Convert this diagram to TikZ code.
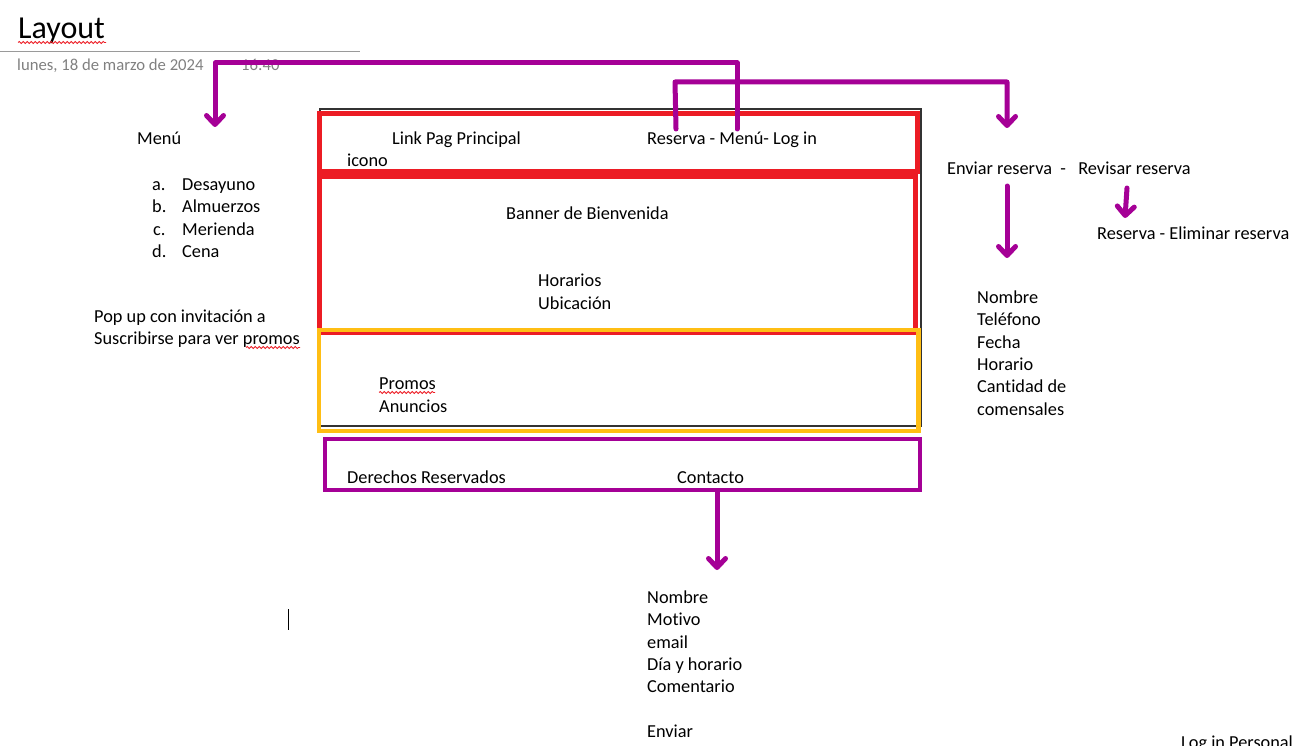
\documentclass[tikz,border=0pt]{standalone}
\usepackage{fontspec}
\setmainfont{Carlito}[Ligatures=NoCommon]
\usetikzlibrary{arrows.meta,decorations.pathmorphing}

\definecolor{boxred}{RGB}{236,28,36}
\definecolor{boxorange}{RGB}{255,190,20}
\definecolor{penpurple}{RGB}{165,0,150}
\definecolor{dategray}{RGB}{128,128,128}
\definecolor{framegray}{RGB}{50,50,50}

\tikzset{
  txt/.style={anchor=base west, inner sep=0pt, font=\fontsize{18.3}{22}\selectfont},
  pen/.style={penpurple, line width=5pt, line cap=round, line join=round,
    -{Straight Barb[length=9pt,width=17pt,round]}},
  squiggle/.style={boxred, line width=0.8pt, decorate,
    decoration={snake, amplitude=1pt, segment length=4pt}},
}

\begin{document}
\begin{tikzpicture}[x=1pt,y=-1pt]
  \useasboundingbox (0,0) rectangle (1305,746);

  %% header
  \node[txt, font=\fontsize{32}{36}\selectfont] (title) at (18,39) {Layout};
  \draw[squiggle] (18,42.5) -- (106,42.5);
  \draw[dategray!80, line width=1pt] (0,52) -- (360,52);
  \node[txt, text=dategray, font=\fontsize{16.7}{20}\selectfont] (date) at (17,71) {lunes, 18 de marzo de 2024};
  \node[txt, text=dategray, font=\fontsize{16.7}{20}\selectfont] (time) at (241,71) {16:40};

  %% page frame
  \draw[framegray, line width=2pt] (320,109) rectangle (921,425.5);
  \draw[boxred, line width=5pt] (319.5,114) rectangle (917,171.5);
  \draw[boxred, line width=5pt] (319.5,177) rectangle (915.5,332.5);
  \draw[boxorange, line width=4.5pt] (319,330) rectangle (918.5,431);
  \draw[penpurple, line width=4pt] (325,438.5) rectangle (919.5,490);

  %% menu
  \node[txt] (menu) at (137,145) {Menú};
  \node[txt] (la) at (152,190) {a.};
  \node[txt] (lb) at (152,212) {b.};
  \node[txt] (lc) at (153,235) {c.};
  \node[txt] (ld) at (152,257) {d.};
  \node[txt] (desayuno) at (182,190) {Desayuno};
  \node[txt] (almuerzos) at (182,212) {Almuerzos};
  \node[txt] (merienda) at (182,235) {Merienda};
  \node[txt] (cena) at (182,257) {Cena};

  %% pop up
  \node[txt] (popA) at (94,322) {Pop up con invitación a};
  \node[txt] (popB) at (94,344) {Suscribirse para ver promos};
  \draw[squiggle] (246,347.5) -- (300,347.5);

  %% header bar
  \node[txt] (link) at (392,145) {Link Pag Principal};
  \node[txt] (icono) at (347,167) {icono};
  \node[txt] (nav) at (647,145) {Reserva - Menú- Log in};

  %% body
  \node[txt] (banner) at (506,219) {Banner de Bienvenida};
  \node[txt] (horarios) at (538,286) {Horarios};
  \node[txt] (ubicacion) at (538,309) {Ubicación};
  \node[txt] (promos) at (379,389) {Promos};
  \draw[squiggle] (379,392.5) -- (435,392.5);
  \node[txt] (anuncios) at (379,412) {Anuncios};

  %% footer
  \node[txt] (derechos) at (347,483) {Derechos Reservados};
  \node[txt] (contacto) at (677,483) {Contacto};

  %% reserva
  \node[txt] (enviar) at (947,175) {Enviar reserva~~-~~~Revisar reserva};
  \node[txt] (eliminar) at (1097,239) {Reserva - Eliminar reserva};
  \node[txt] (rNombre) at (977,303) {Nombre};
  \node[txt] (rTelefono) at (977,325) {Teléfono};
  \node[txt] (rFecha) at (977,348) {Fecha};
  \node[txt] (rHorario) at (977,370) {Horario};
  \node[txt] (rCantidad) at (977,392) {Cantidad de};
  \node[txt] (rComensales) at (977,415) {comensales};

  %% contacto
  \node[txt] (cNombre) at (647,603) {Nombre};
  \node[txt] (cMotivo) at (647,625) {Motivo};
  \node[txt] (cEmail) at (647,648) {email};
  \node[txt] (cDia) at (647,670) {Día y horario};
  \node[txt] (cComentario) at (647,692) {Comentario};
  \node[txt] (cEnviar) at (647,737) {Enviar};

  \node[txt] (login) at (1181,748) {Log in Personal};

  %% cursor
  \draw[black, line width=1pt] (288,609) -- (288,630);

  %% arrows
  \coordinate (menuStart) at (737,129);
  \coordinate (menuTip) at (215,127);
  \coordinate (resStart) at (676,129);
  \coordinate (resTip) at (1007,128);
  \coordinate (envStart) at (1007,186);
  \coordinate (envTip) at (1007,258);
  \coordinate (revStart) at (1127,188);
  \coordinate (revTip) at (1125,218);
  \coordinate (conStart) at (717,492);
  \coordinate (conTip) at (717,570);

  \draw[pen] (menuStart) -- (737,63) -| (menuTip);
  \draw[pen] (resStart) -- (675,82) -| (resTip);
  \draw[pen] (envStart) -- (envTip);
  \draw[pen] (revStart) -- (revTip);
  \draw[pen] (conStart) -- (conTip);

\end{tikzpicture}
\end{document}
